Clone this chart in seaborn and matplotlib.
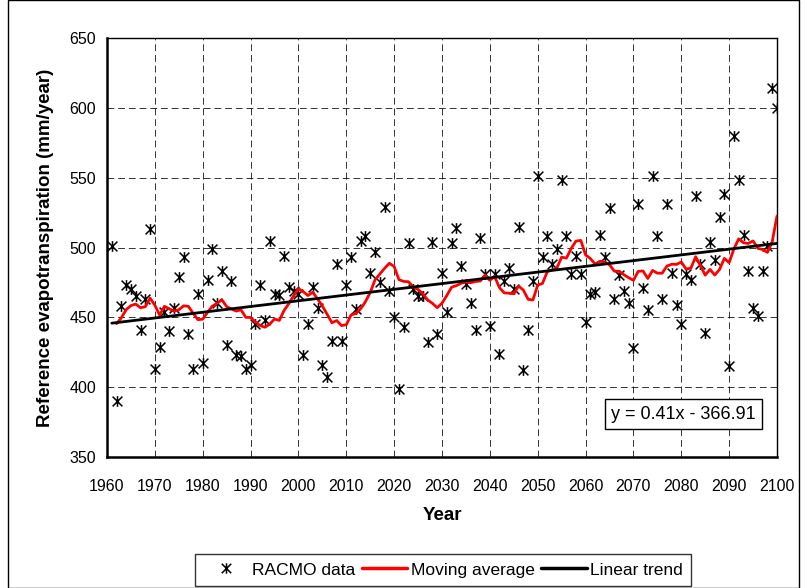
import numpy as np
import pandas as pd
import matplotlib
matplotlib.use("Agg")
import matplotlib.pyplot as plt
import seaborn as sns
from matplotlib.path import Path
from matplotlib.lines import Line2D
from matplotlib.patches import Rectangle

# ---------------- data ----------------
years = list(range(1961, 2101))
racmo = [
    501, 390, 458, 473, 470, 465, 441, 463, 513, 413,   # 1961-1970
    429, 454, 440, 457, 479, 493, 438, 413, 467, 417,   # 1971-1980
    477, 499, 460, 483, 430, 476, 423, 422, 413, 416,   # 1981-1990
    445, 473, 448, 505, 467, 466, 494, 472, 469, 467,   # 1991-2000
    423, 445, 472, 457, 416, 407, 433, 488, 433, 473,   # 2001-2010
    493, 456, 505, 508, 482, 497, 475, 529, 469, 450,   # 2011-2020
    399, 443, 503, 470, 465, 465, 432, 504, 438, 482,   # 2021-2030
    454, 503, 514, 487, 474, 460, 441, 507, 481, 444,   # 2031-2040
    481, 424, 476, 485, 470, 515, 412, 441, 476, 551,   # 2041-2050
    493, 508, 488, 499, 548, 508, 481, 494, 481, 447,   # 2051-2060
    467, 468, 509, 493, 528, 463, 480, 469, 460, 428,   # 2061-2070
    531, 471, 455, 551, 508, 463, 531, 482, 459, 445,   # 2071-2080
    481, 477, 537, 488, 439, 504, 491, 522, 538, 415,   # 2081-2090
    580, 548, 509, 483, 457, 451, 483, 501, 614, 600,   # 2091-2100
]
x_ticks = list(range(1960, 2101, 10))
y_ticks = list(range(350, 651, 50))
ma_window = 10
trend_label = "y = 0.41x - 366.91"
series_labels = ["RACMO data", "Moving average", "Linear trend"]

df = pd.DataFrame({"Year": years, "ET": racmo})
df["MA"] = df["ET"].rolling(ma_window, min_periods=2).mean()
slope, intercept = np.polyfit(df["Year"], df["ET"], 1)
df["Trend"] = slope * df["Year"] + intercept

# ---------------- style ----------------
sns.set_theme(style="white")
plt.rcParams["font.family"] = ["Liberation Sans", "DejaVu Sans"]
plt.rcParams["text.color"] = "black"
plt.rcParams["axes.labelcolor"] = "black"
plt.rcParams["xtick.color"] = "black"
plt.rcParams["ytick.color"] = "black"

fig = plt.figure(figsize=(8.07, 5.88), dpi=100)
ax = fig.add_axes([107 / 807, 1 - 457 / 588, 670 / 807, 419 / 588])

star = Path(
    [(-1, -1), (1, 1), (-1, 1), (1, -1), (0, -1.1), (0, 1.1)],
    [Path.MOVETO, Path.LINETO, Path.MOVETO, Path.LINETO, Path.MOVETO, Path.LINETO],
)

sns.scatterplot(data=df, x="Year", y="ET", marker=star, s=60, color="black",
                edgecolor="black", linewidth=1.1, ax=ax, zorder=3, legend=False)
sns.lineplot(data=df.dropna(), x="Year", y="MA", color="#ff0000", linewidth=2.0,
             ax=ax, zorder=4, legend=False)
sns.lineplot(data=df, x="Year", y="Trend", color="black", linewidth=2.0,
             ax=ax, zorder=5, legend=False)

ax.set_xlim(1960, 2100)
ax.set_ylim(350, 650)
ax.set_xticks(x_ticks)
ax.set_yticks(y_ticks)
ax.set_xticklabels([str(t) for t in x_ticks], fontsize=11.5)
ax.set_yticklabels([str(t) for t in y_ticks], fontsize=11.5)
ax.tick_params(axis="x", direction="inout", length=7, width=1.0, colors="black", pad=12)
ax.tick_params(axis="y", direction="out", length=5, width=1.0, colors="black", pad=3)
ax.grid(True, color="black", linestyle=(0, (7, 4)), linewidth=0.7, alpha=0.8)
ax.set_axisbelow(True)
for side, sp in ax.spines.items():
    sp.set_visible(True)
    sp.set_color("black")
    sp.set_linewidth(1.8 if side in ("left", "bottom") else 1.0)

ax.set_xlabel("Year", fontsize=13.5, fontweight="bold", labelpad=10)
ax.set_ylabel("Reference evapotranspiration (mm/year)", fontsize=13.5,
              fontweight="bold", labelpad=11)

ax.text(0.86, 0.1026, trend_label, transform=ax.transAxes, ha="center", va="center",
        fontsize=13, zorder=6,
        bbox=dict(boxstyle="square,pad=0.35", fc="white", ec="black", lw=1.0))

handles = [
    Line2D([], [], linestyle="none", marker=star, markersize=7.5, color="black",
           markeredgewidth=1.1),
    Line2D([], [], color="#ff0000", linewidth=2.5),
    Line2D([], [], color="black", linewidth=2.5),
]
leg = fig.legend(handles, series_labels, loc="upper center",
                 bbox_to_anchor=(443 / 807, 1 - 545 / 588), ncol=3, fontsize=12.5,
                 frameon=True, fancybox=False, edgecolor="black",
                 handlelength=2.6, columnspacing=0.4, handletextpad=0.2,
                 borderpad=0.5)
leg.get_frame().set_linewidth(1.0)

fig.patches.append(Rectangle((8 / 807, 0), 1 - 16 / 807, 1, transform=fig.transFigure,
                             fill=False, ec="black", lw=1.0))

fig.savefig("out.png", dpi=100, facecolor="white")
